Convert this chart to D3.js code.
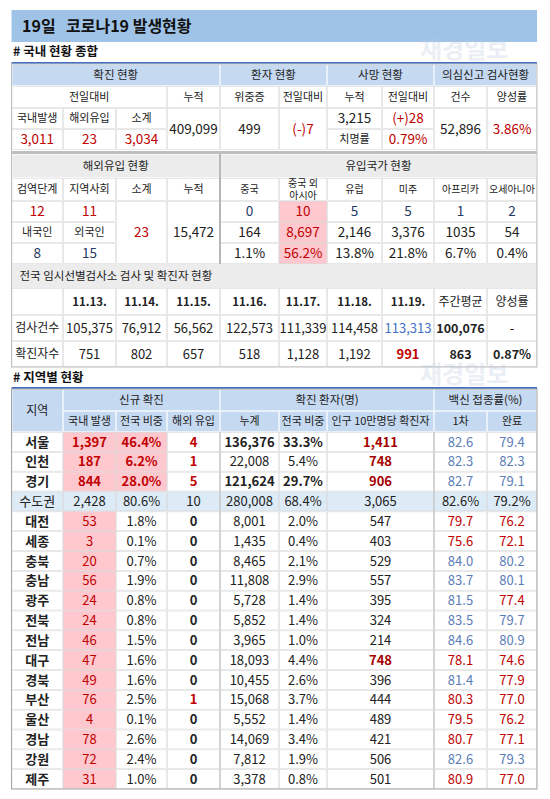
<!DOCTYPE html>
<html><head><meta charset="utf-8">
<script src="https://cdn.jsdelivr.net/npm/d3@7"></script>
<style>body{margin:0;background:#fff}text{font-family:"Noto Sans CJK KR","Noto Sans",sans-serif}</style>
</head><body><svg id="c" width="550" height="799"></svg>
<script>
// ---- data ----
const titleDay = "19일", titleText = "코로나19 발생현황";
const confirmedToday = ["3,011","23","3,034"];
const confirmedCum = "409,099";
const critical = ["499","(-)7"];
const deaths = ["3,215","(+)28","0.79%"];
const tests = ["52,896","3.86%"];
const importStage = ["12","11"];
const importNat = ["8","15"];
const importTotal = "23", importCum = "15,472";
const originNames = ["중국","중국 외\n아시아","유럽","미주","아프리카","오세아니아"];
const originToday = ["0","10","5","5","1","2"];
const originCum = ["164","8,697","2,146","3,376","1035","54"];
const originShare = ["1.1%","56.2%","13.8%","21.8%","6.7%","0.4%"];
const dates = ["11.13.","11.14.","11.15.","11.16.","11.17.","11.18.","11.19."];
const testCounts = ["105,375","76,912","56,562","122,573","111,339","114,458","113,313"];
const caseCounts = ["751","802","657","518","1,128","1,192","991"];
const weekAvg = ["100,076","863"], posRate = ["-","0.87%"];
const regions = ["서울","인천","경기","수도권","대전","세종","충북","충남","광주","전북","전남","대구","경북","부산","울산","경남","강원","제주"];
const domestic = ["1,397","187","844","2,428","53","3","20","56","24","24","46","47","49","76","4","78","72","31"];
const domShare = ["46.4%","6.2%","28.0%","80.6%","1.8%","0.1%","0.7%","1.9%","0.8%","0.8%","1.5%","1.6%","1.6%","2.5%","0.1%","2.6%","2.4%","1.0%"];
const overseas = ["4","1","5","10","0","0","0","0","0","0","0","0","0","1","0","0","0","0"];
const cumul = ["136,376","22,008","121,624","280,008","8,001","1,435","8,465","11,808","5,728","5,852","3,965","18,093","10,455","15,068","5,552","14,069","7,812","3,378"];
const cumShare = ["33.3%","5.4%","29.7%","68.4%","2.0%","0.4%","2.1%","2.9%","1.4%","1.4%","1.0%","4.4%","2.6%","3.7%","1.4%","3.4%","1.9%","0.8%"];
const per100k = ["1,411","748","906","3,065","547","403","529","557","395","324","214","748","396","444","489","421","506","501"];
const vax1 = [82.6,82.3,82.7,82.6,79.7,75.6,84.0,83.7,81.5,83.5,84.6,78.1,81.4,80.3,79.5,80.7,82.6,80.9];
const vaxFull = [79.4,82.3,79.1,79.2,76.2,72.1,80.2,80.1,77.4,79.7,80.9,74.6,77.9,77.0,76.2,77.1,79.3,77.0];

// ---- drawing ----
const svg = d3.select("#c");
const RED="#c00000", BLUE="#4472c4", VB="#5b7db8", HDR="#c5d9f1", GRAY="#ececec", PINK="#ffc7ce", GRID="#d9d9d9";
const X = [11.5,63,116,167,220,279,327,382,434,487,537];
const FS=13;
function cell(x0,x1,y0,y1,txt,o={}){
  if(o.bg) svg.append("rect").attr("x",x0).attr("y",y0).attr("width",x1-x0).attr("height",y1-y0).attr("fill",o.bg);
  if(o.border!==false) svg.append("rect").attr("x",x0+0.5).attr("y",y0+0.5).attr("width",x1-x0-1).attr("height",y1-y0-1)
    .attr("fill","none").attr("stroke",o.stroke||GRID).attr("stroke-width",0.6);
  if(txt==null) return;
  const lines=String(txt).split("\n"), fs=o.fs||FS, lh=fs*1.2;
  const t=svg.append("text").attr("text-anchor",o.left?"start":"middle")
    .attr("font-size",fs).attr("font-weight",o.bold?"bold":"normal").attr("fill",o.color||"#222");
  lines.forEach((l,i)=>t.append("tspan").attr("x",o.left?x0+8:(x0+x1)/2)
    .attr("y",(y0+y1)/2+fs*0.36+(i-(lines.length-1)/2)*lh).text(l));
}
// title
svg.append("rect").attr("x",11.5).attr("y",10).attr("width",525.5).attr("height",32).attr("fill","#9fc3e7");
svg.append("text").attr("x",22).attr("y",32).attr("font-size",16).attr("font-weight","bold").attr("fill","#111").text(titleDay);
svg.append("text").attr("x",66).attr("y",32).attr("font-size",16).attr("font-weight","bold").attr("fill","#111").text(titleText);
svg.append("text").attr("x",13).attr("y",56).attr("font-size",12.5).attr("font-weight","bold").attr("fill","#111").text("# 국내 현황 종합");
svg.append("rect").attr("x",11.5).attr("y",62).attr("width",525.5).attr("height",2).attr("fill",BLUE);

// section 1
const R=[64,86,108,129,150];
const sm=11;
cell(X[0],X[4],R[0],R[1],"확진 현황",{bg:HDR,stroke:"#fff",fs:11.5});
cell(X[4],X[6],R[0],R[1],"환자 현황",{bg:HDR,stroke:"#fff",fs:11.5});
cell(X[6],X[8],R[0],R[1],"사망 현황",{bg:HDR,stroke:"#fff",fs:11.5});
cell(X[8],X[10],R[0],R[1],"의심신고 검사현황",{bg:HDR,stroke:"#fff",fs:11.5});
[["전일대비",0,3],["누적",3,4],["위중증",4,5],["전일대비",5,6],["누적",6,7],["전일대비",7,8],["건수",8,9],["양성률",9,10]]
  .forEach(([t,a,b])=>cell(X[a],X[b],R[1],R[2],t,{fs:sm}));
["국내발생","해외유입","소계"].forEach((t,i)=>cell(X[i],X[i+1],R[2],R[3],t,{fs:sm}));
confirmedToday.forEach((t,i)=>cell(X[i],X[i+1],R[3],R[4],t,{color:RED,fs:13.5}));
cell(X[3],X[4],R[2],R[4],confirmedCum,{fs:13.5});
cell(X[4],X[5],R[2],R[4],critical[0],{fs:13.5});
cell(X[5],X[6],R[2],R[4],critical[1],{fs:13.5,color:RED});
cell(X[6],X[7],R[2],R[3],deaths[0],{fs:13.5});
cell(X[7],X[8],R[2],R[3],deaths[1],{fs:13.5,color:RED});
cell(X[6],X[7],R[3],R[4],"치명률",{fs:sm});
cell(X[7],X[8],R[3],R[4],deaths[2],{fs:13.5,color:RED});
cell(X[8],X[9],R[2],R[4],tests[0],{fs:13.5});
cell(X[9],X[10],R[2],R[4],tests[1],{fs:13.5,color:RED});
svg.append("rect").attr("x",11.5).attr("y",151).attr("width",525.5).attr("height",3).attr("fill","#bfbfbf");

const S=[154,178,201,222,243,264];
cell(X[0],X[4],S[0],S[1],"해외유입 현황",{bg:GRAY,stroke:"#fff",fs:11.5});
cell(X[4],X[10],S[0],S[1],"유입국가 현황",{bg:GRAY,stroke:"#fff",fs:11.5});
["검역단계","지역사회","소계","누적"].forEach((t,i)=>cell(X[i],X[i+1],S[1],S[2],t,{fs:sm}));
originNames.forEach((t,i)=>cell(X[i+4],X[i+5],S[1],S[2],t,{fs:10}));
importStage.forEach((t,i)=>cell(X[i],X[i+1],S[2],S[3],t,{color:RED,fs:13.5}));
["내국인","외국인"].forEach((t,i)=>cell(X[i],X[i+1],S[3],S[4],t,{fs:sm}));
importNat.forEach((t,i)=>cell(X[i],X[i+1],S[4],S[5],t,{color:"#1f3864",fs:13.5}));
cell(X[2],X[3],S[2],S[5],importTotal,{color:RED,fs:13.5});
cell(X[3],X[4],S[2],S[5],importCum,{fs:13.5});
[originToday,originCum,originShare].forEach((arr,r)=>arr.forEach((t,i)=>
  cell(X[i+4],X[i+5],S[2+r],S[3+r],t,{fs:13.5,bg:i===1?PINK:null,color:i===1?RED:(r===0?"#1f3864":"#222")})));
svg.append("line").attr("x1",220).attr("x2",220).attr("y1",S[0]).attr("y2",S[5]).attr("stroke","#a6a6a6").attr("stroke-width",1.5);

const T=[264,288,315,341,367];
cell(X[0],X[10],T[0],T[1],"전국 임시선별검사소 검사 및 확진자 현황",{bg:GRAY,stroke:GRAY,fs:11.5,left:true});
cell(X[0],X[1],T[1],T[2],"",{});
dates.forEach((t,i)=>cell(X[i+1],X[i+2],T[1],T[2],t,{bold:true,fs:11.5}));
cell(X[8],X[9],T[1],T[2],"주간평균",{fs:12});
cell(X[9],X[10],T[1],T[2],"양성률",{fs:12});
cell(X[0],X[1],T[2],T[3],"검사건수",{fs:12});
cell(X[0],X[1],T[3],T[4],"확진자수",{fs:12});
testCounts.forEach((t,i)=>cell(X[i+1],X[i+2],T[2],T[3],t,{fs:13,color:i===6?BLUE:"#222"}));
caseCounts.forEach((t,i)=>cell(X[i+1],X[i+2],T[3],T[4],t,{fs:13,color:i===6?RED:"#222",bold:i===6}));
cell(X[8],X[9],T[2],T[3],weekAvg[0],{fs:12.5,bold:true});
cell(X[8],X[9],T[3],T[4],weekAvg[1],{fs:12.5,bold:true});
cell(X[9],X[10],T[2],T[3],posRate[0],{fs:13});
cell(X[9],X[10],T[3],T[4],posRate[1],{fs:12.5,bold:true});
svg.append("rect").attr("x",11.5).attr("y",64).attr("width",525.5).attr("height",303).attr("fill","none").attr("stroke","#bfbfbf");

// regional
svg.append("text").attr("x",13).attr("y",382).attr("font-size",12.5).attr("font-weight","bold").attr("fill","#111").text("# 지역별 현황");
svg.append("rect").attr("x",11.5).attr("y",387).attr("width",525.5).attr("height",2).attr("fill",BLUE);
const C=[11.5,63,116,167,220,279,327,434,487,537];
cell(C[0],C[1],389,432,"지역",{bg:HDR,stroke:"#fff",fs:12});
cell(C[1],C[4],389,411,"신규 확진",{bg:HDR,stroke:"#fff",fs:11.5});
cell(C[4],C[7],389,411,"확진 환자(명)",{bg:HDR,stroke:"#fff",fs:11.5});
cell(C[7],C[9],389,411,"백신 접종률(%)",{bg:HDR,stroke:"#fff",fs:11.5});
["국내 발생","전국 비중","해외 유입","누계","전국 비중","인구 10만명당 확진자","1차","완료"]
  .forEach((t,i)=>cell(C[i+1],C[i+2],411,432,t,{bg:HDR,stroke:"#fff",fs:11}));
const y=d3.scaleLinear().domain([0,regions.length]).range([432,789]);
regions.forEach((r,i)=>{
  const y0=y(i),y1=y(i+1),cap=i===3,top3=i<3;
  const rowbg=cap?"#ddebf7":null;
  cell(C[0],C[1],y0,y1,r,{bg:rowbg,fs:13,bold:!cap});
  cell(C[1],C[2],y0,y1,domestic[i],{bg:cap?rowbg:PINK,color:cap?"#222":RED,bold:top3});
  cell(C[2],C[3],y0,y1,domShare[i],{bg:cap?rowbg:(top3?PINK:null),color:cap?"#222":(top3?RED:"#222"),bold:top3});
  const ov=overseas[i]!=="0"&&!cap;
  cell(C[3],C[4],y0,y1,overseas[i],{bg:rowbg,color:ov?RED:"#222",bold:!cap});
  const big=i===0||i===2;
  cell(C[4],C[5],y0,y1,cumul[i],{bg:rowbg,bold:big});
  cell(C[5],C[6],y0,y1,cumShare[i],{bg:rowbg,bold:big});
  const hot=top3||i===11;
  cell(C[6],C[7],y0,y1,per100k[i],{bg:rowbg,bold:hot,color:hot?"#a50000":"#222"});
  cell(C[7],C[8],y0,y1,cap?vax1[i].toFixed(1)+"%":vax1[i].toFixed(1),{bg:rowbg,color:cap?"#222":(vax1[i]<81?RED:VB)});
  cell(C[8],C[9],y0,y1,cap?vaxFull[i].toFixed(1)+"%":vaxFull[i].toFixed(1),{bg:rowbg,color:cap?"#222":(vaxFull[i]<78?RED:VB)});
});
[220,434].forEach(x=>svg.append("line").attr("x1",x).attr("x2",x).attr("y1",432).attr("y2",789).attr("stroke","#bfbfbf"));
svg.append("rect").attr("x",11.5).attr("y",389).attr("width",525.5).attr("height",400).attr("fill","none").attr("stroke","#a6a6a6");
// watermarks
[58,383].forEach(yy=>{
  svg.append("text").attr("x",420).attr("y",yy).attr("font-size",24).attr("font-weight","bold").attr("fill","#b8cbe0").attr("opacity",0.3).text("재경일보");
});
</script></body></html>
